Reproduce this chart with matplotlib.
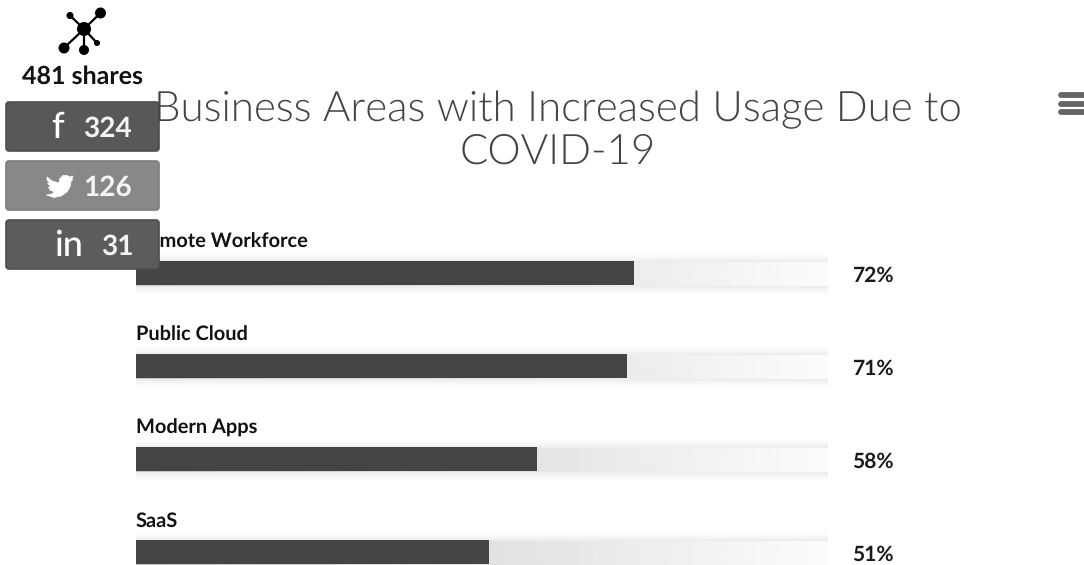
import numpy as np
import matplotlib
matplotlib.use("Agg")
import matplotlib.pyplot as plt
from matplotlib.patches import FancyBboxPatch, Circle, Polygon

plt.rcParams['font.family'] = ['Lato', 'DejaVu Sans']
plt.rcParams['text.hinting'] = 'no_hinting'
plt.rcParams['text.hinting_factor'] = 1

#data
categories = ["Remote Workforce", "Public Cloud", "Modern Apps", "SaaS"]
values = [72, 71, 58, 51]
title_lines = ["Business Areas with Increased Usage Due to", "COVID-19"]
total_shares = "481 shares"
share_icons = ["f", "", "in"]
share_counts = ["324", "126", "31"]

W, H = 1084, 565
fig = plt.figure(figsize=(W / 100, H / 100), dpi=100)

#bars axes, 0-100 runs 136px to 828px, row spacing 93px, first row at y=273
ax = fig.add_axes([136 / W, 0, 692 / W, 1])
ax.axis("off")
ax.patch.set_alpha(0)

#px sizes in data units
py = 1 / 93
px = 100 / 692
bar_h = 24 * py
grad = np.linspace(0, 1, 256).reshape(1, -1)

#soft shadow as one rgba image, fades out over 12px round the track
pad = 12
xx = np.arange(692 + 2 * pad) + 0.5
yy = np.arange(24 + 2 * pad) + 0.5
dx = np.maximum(np.maximum(pad - xx, xx - (692 + pad)), 0)
dy = np.maximum(np.maximum(pad - yy, yy - (24 + pad)), 0)
dist = np.hypot(dx[None, :], dy[:, None])
shadow = np.zeros((len(yy), len(xx), 4))
shadow[..., 3] = 0.085 * np.clip(1 - dist / pad, 0, 1) ** 2

for i, (name, v) in enumerate(zip(categories, values)):
    track_mid = i + 1.5 * py
    ax.imshow(shadow, extent=(-pad * px, 100 + pad * px, track_mid + bar_h / 2 + pad * py, track_mid - bar_h / 2 - pad * py),
              aspect="auto", zorder=1, clip_on=True, interpolation="bilinear")
    ax.imshow(grad, extent=(0, 100, track_mid + bar_h / 2, track_mid - bar_h / 2), cmap="gray", vmin=-3.59, vmax=1.06,
              aspect="auto", zorder=2, clip_on=False)
    ax.barh(i, v, height=bar_h, color="#444444", zorder=3)
    ax.text(0, i - 31 * py, name, fontsize=14.7, fontweight="bold", color="#111111", va="center", ha="left", zorder=4)
    ax.text(100 + 24.5 * px, i + 2.5 * py, "%d%%" % v, fontsize=14.8, fontweight="bold", color="#1a1a1a",
            va="center", ha="left", zorder=4)
ax.set_xlim(0, 100)
ax.set_ylim((H - 273) * py, -273 * py)

#page furniture on top, in pixels
top = fig.add_axes([0, 0, 1, 1], zorder=5)
top.set_xlim(0, W)
top.set_ylim(H, 0)
top.axis("off")
top.patch.set_alpha(0)

top.text(558, 110, title_lines[0], fontsize=29.9, fontweight=300, color="#444444", ha="center", va="center")
top.text(558, 152, title_lines[1], fontsize=29.9, fontweight=300, color="#444444", ha="center", va="center")

#network icon
hub = (84, 29)
nodes = [(100.5, 13, 5.5), (70, 15.5, 3.5), (64, 48, 5.5), (84, 50, 5), (97, 43, 3)]
for x, y, r in nodes:
    top.plot([hub[0], x], [hub[1], y], color="black", lw=1.6)
    top.add_patch(Circle((x, y), r, fc="black", ec="none"))
top.add_patch(Circle(hub, 7, fc="black", ec="none"))
top.text(82.5, 77, total_shares, fontsize=18, fontweight="bold", color="#111111", ha="center", va="center")

#share buttons
btn_y = [101, 160, 219]
btn_col = ["#585858", "#888888", "#5c5c5c"]
icon_x = [58, 0, 68]
count_x = [132, 132, 134]
for y, c, ic, ix, n, nx in zip(btn_y, btn_col, share_icons, icon_x, share_counts, count_x):
    top.add_patch(FancyBboxPatch((6, y + 1), 153, 49, boxstyle="round,pad=0,rounding_size=3", fc=c,
                                 ec="#4e4e4e" if c != "#888888" else "#7c7c7c", lw=1.2))
    if ic:
        top.text(ix, y + 27, ic, fontsize=26, fontweight="medium", color="white", ha="center", va="center")
    top.text(nx, y + 28, n, fontsize=20, fontweight="bold", color="#f4f4f4", ha="right", va="center")

#twitter bird
bird = [(47, 177), (52, 181), (59, 183), (59.5, 179), (63, 175.5), (67, 175.5), (70, 177), (73, 176), (71.5, 179),
        (73, 179), (71, 181.5), (70.5, 186), (67, 192), (61, 196), (54, 197.5), (46.5, 195), (52, 194), (54.5, 192),
        (50, 190), (48.5, 187), (51, 187), (47.5, 183), (50, 183.5), (47, 180)]
top.add_patch(Polygon(bird, closed=True, fc="white", ec="white", lw=0.5, joinstyle="round"))

#menu icon
for y in [95, 103.5, 112]:
    top.plot([1061, 1086], [y, y], color="#666666", lw=4.2, solid_capstyle="round")

fig.savefig("out.png", dpi=100)
